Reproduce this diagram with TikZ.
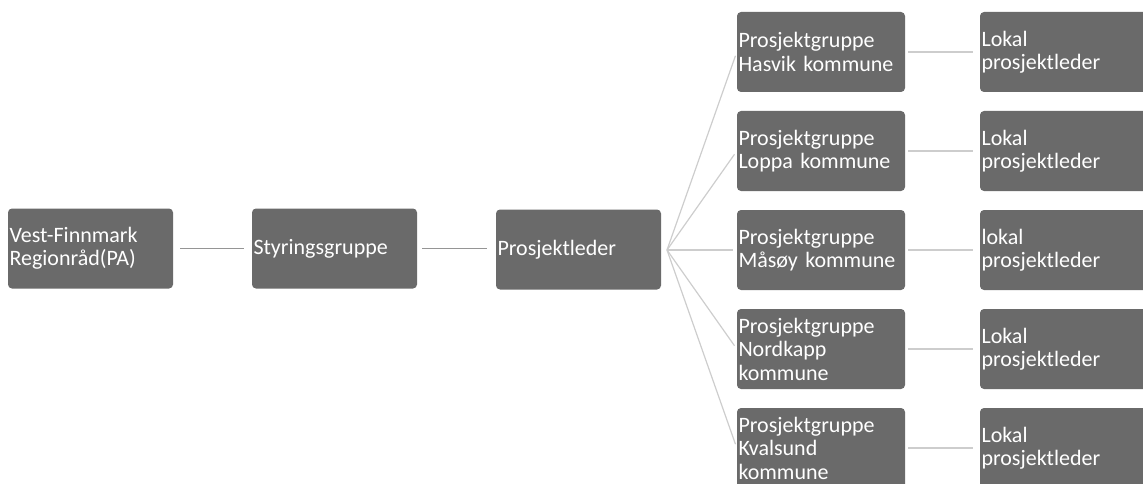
\documentclass[tikz,border=0pt]{standalone}
\usepackage{fontspec}
\setmainfont{Carlito}
\begin{document}
\begin{tikzpicture}[x=1pt,y=-1pt,
  box/.style={draw=none,fill=boxgray,rounded corners=4pt,text=white,
    align=left,inner xsep=1.5pt,inner ysep=0pt,minimum height=80pt,
    font=\fontsize{22}{23.5}\selectfont},
  boxA/.style={box,text width=162pt},
  boxR/.style={box,text width=165pt},
  mainline/.style={draw=linedark,line width=1.8pt},
  thinline/.style={draw=linelight,line width=1.2pt}]
\definecolor{boxgray}{HTML}{6A6A6A}
\definecolor{linedark}{HTML}{959595}
\definecolor{linelight}{HTML}{CDCDCD}
\useasboundingbox (0,0) rectangle (1143,484);
\node[boxA] (A) at (90.5,248.5) {Vest-Finnmark\\Regionråd(PA)};
\node[boxA] (B) at (334.5,248.5) {Styringsgruppe};
\node[boxA] (C) at (578.5,249.5) {Prosjektleder};
\node[boxR] (P1) at (821,52) {Prosjektgruppe\\Hasvik kommune};
\node[boxR] (P2) at (821,151) {Prosjektgruppe\\Loppa kommune};
\node[boxR] (P3) at (821,250) {Prosjektgruppe\\Måsøy kommune};
\node[boxR] (P4) at (821,349) {Prosjektgruppe\\Nordkapp\\kommune};
\node[boxR] (P5) at (821,448) {Prosjektgruppe\\Kvalsund\\kommune};
\node[boxR] (L1) at (1064,52) {Lokal\\prosjektleder};
\node[boxR] (L2) at (1064,151) {Lokal\\prosjektleder};
\node[boxR] (L3) at (1064,250) {lokal\\prosjektleder};
\node[boxR] (L4) at (1064,349) {Lokal\\prosjektleder};
\node[boxR] (L5) at (1064,448) {Lokal\\prosjektleder};
\draw[mainline,shorten <=7pt,shorten >=8pt] (A) -- (B);
\draw[mainline,shorten <=5pt,shorten >=9pt] (B.east) -- (B.east -| C.west);
\coordinate (fan) at (667,250);
\foreach \i in {1,...,5} {
  \draw[thinline,shorten >=4pt] (fan) -- (P\i.west);
  \draw[thinline,shorten <=3pt,shorten >=7pt] (P\i) -- (L\i);
}
\end{tikzpicture}
\end{document}
